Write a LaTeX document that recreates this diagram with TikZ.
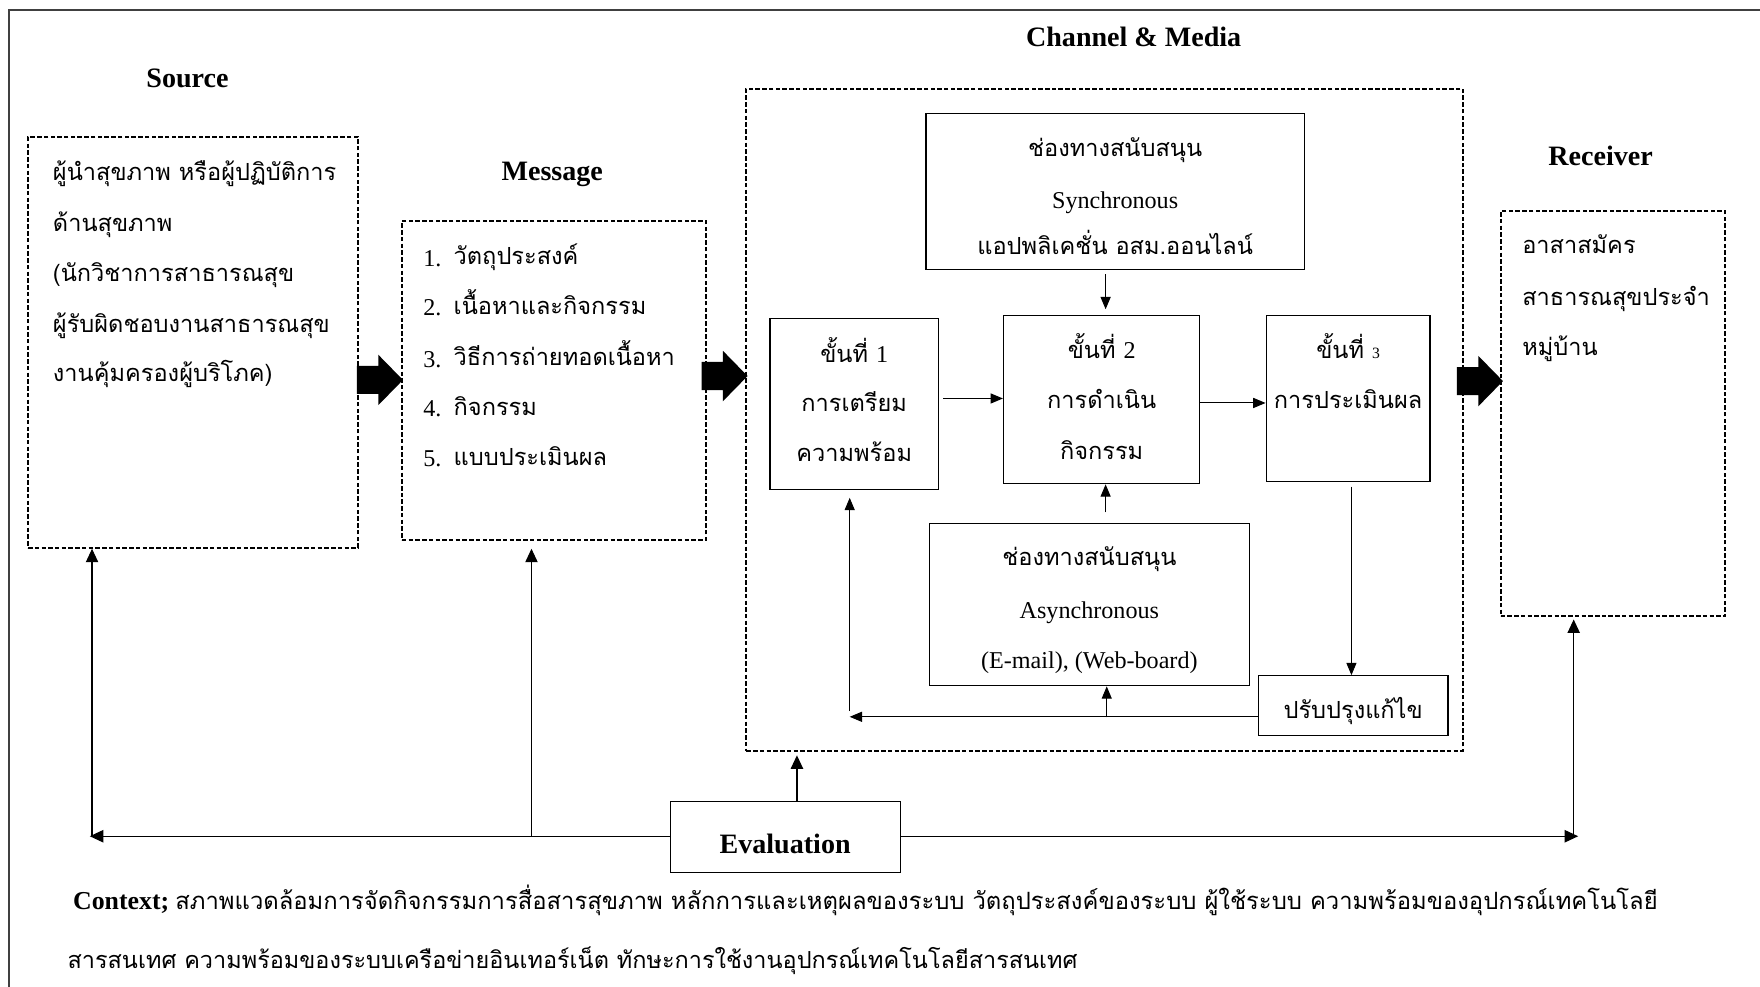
\documentclass[tikz,border=0pt]{standalone}
\usepackage{fontspec}
\setmainfont{Liberation Serif}
\newfontfamily\thaifont[Script=Thai]{Loma}
\usetikzlibrary{arrows.meta,calc}

\tikzset{
  box/.style={draw, line width=1pt, inner sep=0pt},
  dbox/.style={draw, line width=1.8pt, dash pattern=on 4pt off 2pt, inner sep=0pt},
  th/.style={font=\thaifont\fontsize{21}{24}\selectfont, inner sep=0pt},
  lat/.style={font=\fontsize{21.5}{24}\selectfont, inner sep=0pt},
  ttl/.style={font=\bfseries\fontsize{25}{28}\selectfont, inner sep=0pt},
  conn/.style={line width=0.9pt, -{Triangle[length=11pt,width=9pt]}},
  bigconn/.style={line width=1pt, -{Triangle[length=12pt,width=11pt]}},
  pics/blockarrow/.style={code={
    \fill (0,-12.5) -- (19,-12.5) -- (19,-22.5) -- (41,0) -- (19,22.5) -- (19,12.5) -- (0,12.5) -- cycle;
  }}
}

% a box given by its left, top, right and bottom edges
\newcommand{\edgebox}[6]{%
  \node[#1, minimum width={#5-#3}, minimum height={#6-#4}] (#2) at ({(#3+#5)/2},{(#4+#6)/2}) {};}

\begin{document}
\begin{tikzpicture}[x=1pt,y=-1pt]
\useasboundingbox (0,0) rectangle (1568,879);
\clip (0,0) rectangle (1568,879);

% outer frame
\draw[line width=1.8pt, black!75] (1600,8.5) -- (8,8.5) -- (8,900);

% dashed group boxes
\edgebox{dbox}{src}{25}{122}{319}{488}
\edgebox{dbox}{msg}{358}{197}{629}{481}
\edgebox{dbox}{chan}{665}{79}{1303}{669}
\edgebox{dbox}{rcv}{1337}{188}{1537}{549}

% solid boxes
\edgebox{box}{sync}{825}{101}{1162}{240}
\edgebox{box}{s1}{686}{284}{836}{436}
\edgebox{box}{s2}{894}{281}{1069}{431}
\edgebox{box}{s3}{1128}{281}{1274}{429}
\edgebox{box}{async}{828}{466}{1113}{611}
\edgebox{box}{fix}{1121}{602}{1290}{655}
\edgebox{box}{eval}{597}{714}{802}{777}

% titles
\node[ttl, anchor=base] (tsrc) at (167,78) {Source};
\node[ttl, anchor=base] (tmsg) at (492,161) {Message};
\node[ttl, anchor=base] (tchan) at (1010,41) {Channel \& Media};
\node[ttl, anchor=base] (trcv) at (1426,147) {Receiver};
\node[ttl, anchor=base] (teval) at (eval.center |- 0,760) {Evaluation};

% source text
\node[th, anchor=base west] (src1) at (47,161) {ผู้นำสุขภาพ หรือผู้ปฏิบัติการ};
\node[th, anchor=base west] (src2) at (47,206) {ด้านสุขภาพ};
\node[th, anchor=base west] (src3) at (47,251) {(นักวิชาการสาธารณสุข};
\node[th, anchor=base west] (src4) at (47,296) {ผู้รับผิดชอบงานสาธารณสุข};
\node[th, anchor=base west] (src5) at (47,340) {งานคุ้มครองผู้บริโภค)};

% message items
\foreach \n/\t/\yy in {1/วัตถุประสงค์/230, 2/เนื้อหาและกิจกรรม/274, 3/วิธีการถ่ายทอดเนื้อหา/320, 4/กิจกรรม/364, 5/แบบประเมินผล/409}{
  \node[lat, anchor=base west] (msgn\n) at (377,\yy+7) {\n.};
  \node[th, anchor=base west] (msgt\n) at (404,\yy+6) {\t};
}

% synchronous channel
\node[th, anchor=base] (sync1) at (993.5,139) {ช่องทางสนับสนุน};
\node[lat, anchor=base] (sync2) at (993.5,186) {Synchronous};
\node[th, anchor=base] (sync3) at (993.5,227) {แอปพลิเคชั่น อสม.ออนไลน์};

% steps
\node[th, anchor=base] (s1a) at (761,323) {ขั้นที่ {\rmfamily\fontsize{21.5}{24}\selectfont 1}};
\node[th, anchor=base] (s1b) at (761,367) {การเตรียม};
\node[th, anchor=base] (s1c) at (761,411) {ความพร้อม};
\node[th, anchor=base] (s2a) at (981.5,319) {ขั้นที่ {\rmfamily\fontsize{21.5}{24}\selectfont 2}};
\node[th, anchor=base] (s2b) at (981.5,364) {การดำเนิน};
\node[th, anchor=base] (s2c) at (981.5,409) {กิจกรรม};
\node[th, anchor=base] (s3a) at (1201,319) {ขั้นที่ {\rmfamily\fontsize{14}{16}\selectfont 3}};
\node[th, anchor=base] (s3b) at (1201,364) {การประเมินผล};

% asynchronous channel
\node[th, anchor=base] (as1) at (970.5,504) {ช่องทางสนับสนุน};
\node[lat, anchor=base] (as2) at (970.5,551) {Asynchronous};
\node[lat, anchor=base] (as3) at (970.5,596) {(E-mail), (Web-board)};

\node[th, anchor=base] (fixt) at (fix.center |- 0,640) {ปรับปรุงแก้ไข};

% receiver text
\node[th, anchor=base west] (rcv1) at (1356,226) {อาสาสมัคร};
\node[th, anchor=base west] (rcv2) at (1356,272) {สาธารณสุขประจำ};
\node[th, anchor=base west] (rcv3) at (1356,317) {หมู่บ้าน};

% context
\node[anchor=base west, inner sep=0pt] (ctx1) at (65,810)
  {{\bfseries\fontsize{23}{26}\selectfont Context;}\hspace{3pt} {\thaifont\fontsize{21.2}{24}\selectfont สภาพแวดล้อมการจัดกิจกรรมการสื่อสารสุขภาพ หลักการและเหตุผลของระบบ วัตถุประสงค์ของระบบ ผู้ใช้ระบบ ความพร้อมของอุปกรณ์เทคโนโลยี}};
\node[anchor=base west, inner sep=0pt, font=\thaifont\fontsize{20.9}{24}\selectfont] (ctx2) at (60,863)
  {สารสนเทศ ความพร้อมของระบบเครือข่ายอินเทอร์เน็ต ทักษะการใช้งานอุปกรณ์เทคโนโลยีสารสนเทศ};

% block arrows between the stages
\pic at (318,338.5) {blockarrow};
\pic at (625,335) {blockarrow};
\pic at (1298,339.5) {blockarrow};

% flow inside the channel
\draw[conn] ([shift={(4,-5)}]s1.east) -- ([yshift=5pt]s1.east -| s2.west);
\draw[conn] ([yshift=-3pt]s2.east) -- ([yshift=-3pt]s2.east -| s3.west);
\draw[conn, shorten <=4pt, shorten >=5pt] ([xshift=3.5pt]s2.north |- sync.south) -- ([xshift=3.5pt]s2.north);
\draw[conn, shorten <=9pt] ([xshift=3.5pt]s2.south |- async.north) -- ([xshift=3.5pt]s2.south);
\draw[conn, shorten <=4pt] ([xshift=3pt]s3.south) -- ([xshift=3pt]s3.south |- fix.north);

% revision loop
\coordinate (loop) at (757,638.6);
\coordinate (afb) at (986,639);
\draw[conn] (fix.west |- loop) -- (loop);
\draw[conn, shorten <=5pt, shorten >=7pt] (loop) -- (loop |- s1.south);
\draw[conn] (afb) -- (afb |- async.south);

% evaluation feedback
\coordinate (eL) at (80,745);
\coordinate (eR) at (1406,745);
\coordinate (eSrc) at (82,745);
\coordinate (eMsg) at (473.5,745);
\coordinate (eRcv) at (1402,745);
\draw[bigconn] (eval.west |- eL) -- (eL);
\draw[bigconn] (eval.east |- eR) -- (eR);
\draw[bigconn] (eSrc) -- (eSrc |- src.south);
\draw[bigconn, shorten >=7pt] (eMsg) -- (eMsg |- msg.south);
\draw[bigconn, shorten >=2pt] (eRcv) -- (eRcv |- rcv.south);
\draw[bigconn, shorten >=3pt] ([xshift=10.5pt]eval.north) -- ([xshift=10.5pt]eval.north |- chan.south);
\end{tikzpicture}
\end{document}
